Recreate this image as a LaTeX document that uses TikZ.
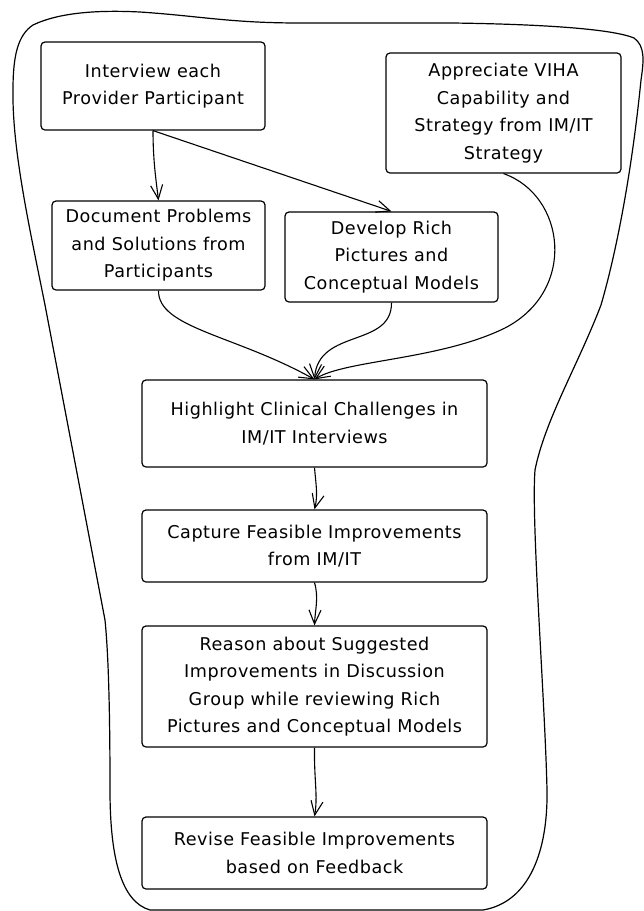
\documentclass[tikz,border=0pt]{standalone}
\usepackage{fontspec}
\setmainfont{DejaVu Sans}[LetterSpace=3]
\usetikzlibrary{arrows.meta}
\tikzset{
  box/.style={draw, line width=1.2pt, rounded corners=4pt, align=center,
    inner sep=0pt, font=\fontsize{17.6}{27.5}\selectfont},
  conn/.style={draw, line width=1.1pt, -{Straight Barb[length=14pt,width=12pt,line width=1.1pt]}},
  outline/.style={draw, line width=1.2pt}
}
\begin{document}
\begin{tikzpicture}[x=1pt,y=-1pt]
\useasboundingbox (0,0) rectangle (644,911);
\path[outline] (33,25) .. controls (60,12) and (100,10) .. (140,12)
  .. controls (200,16) and (230,23) .. (300,23) -- (452,23)
  .. controls (530,24) and (610,28) .. (634,38)
  .. controls (645,46) and (644,60) .. (641,80)
  .. controls (632,170) and (617,250) .. (601,305)
  .. controls (578,365) and (545,420) .. (535,470)
  .. controls (531,520) and (545,700) .. (547,790)
  .. controls (548,850) and (530,902) .. (483,910)
  -- (150,910)
  .. controls (122,902) and (110,860) .. (110,790)
  .. controls (110,700) and (108,650) .. (105,620)
  -- (45,305)
  .. controls (30,230) and (12,150) .. (13,90)
  .. controls (13,55) and (18,35) .. (33,25) -- cycle;
\node[box, minimum width=224pt, minimum height=88pt] (iv) at (153,86) {Interview each\\Provider Participant};
\node[box, minimum width=235pt, minimum height=120pt] (ap) at (503.5,113) {Appreciate VIHA\\Capability and\\Strategy from IM/IT\\Strategy};
\node[box, minimum width=213pt, minimum height=89pt] (doc) at (158.5,245.5) {Document Problems\\and Solutions from\\Participants};
\node[box, minimum width=213pt, minimum height=90pt] (dev) at (391.5,257) {Develop Rich\\Pictures and\\Conceptual Models};
\node[box, minimum width=345pt, minimum height=87pt] (hl) at (314.5,423.5) {Highlight Clinical Challenges in\\IM/IT Interviews};
\node[box, minimum width=345pt, minimum height=72pt] (cap) at (314.5,546) {Capture Feasible Improvements\\from IM/IT};
\node[box, minimum width=345pt, minimum height=121pt] (rs) at (314.5,686.5) {Reason about Suggested\\Improvements in Discussion\\Group while reviewing Rich\\Pictures and Conceptual Models};
\node[box, minimum width=345pt, minimum height=72pt] (rv) at (314.5,853) {Revise Feasible Improvements\\based on Feedback};
\path[conn] (iv.south) .. controls (153,160) and (156,180) .. (doc.north);
\path[conn] (iv.south) -- (dev.north);
\path[conn] (ap.south) .. controls (565,195) and (578,290) .. (505,328) .. controls (440,360) and (345,360) .. (hl.north);
\path[conn] (doc.south) .. controls (158,328) and (235,335) .. (hl.north);
\path[conn] (dev.south) .. controls (392,348) and (318,328) .. (hl.north);
\path[conn] (hl.south) .. controls (316,485) and (318,495) .. (cap.north);
\path[conn] (cap.south) .. controls (319,598) and (315,610) .. (rs.north);
\path[conn] (rs.south) .. controls (314,780) and (318,795) .. (rv.north);
\end{tikzpicture}
\end{document}
